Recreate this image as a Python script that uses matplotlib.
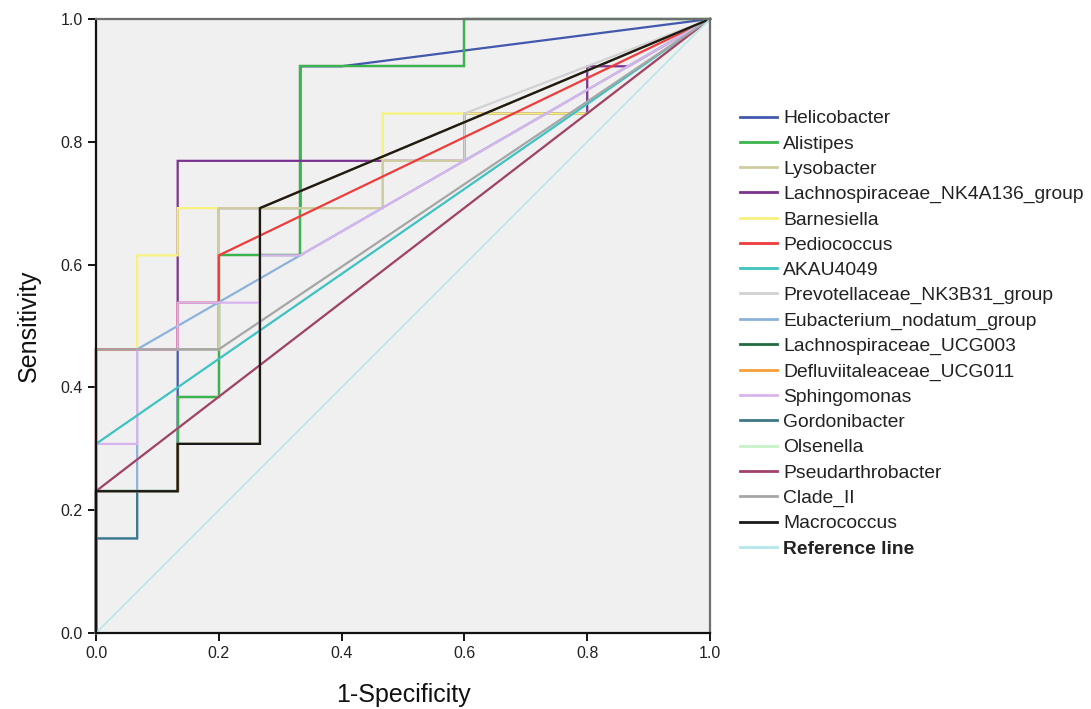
import matplotlib
matplotlib.use("Agg")
import matplotlib.pyplot as plt

plt.rcParams['font.family'] = ['Liberation Sans', 'DejaVu Sans']

# ROC curves: 1-Specificity (x) and Sensitivity (y) of each step point
helicobacter_x = [0, 0, 0.133, 0.133, 0.2, 0.2, 0.333, 0.333, 0.4, 1]
helicobacter_y = [0, 0.231, 0.231, 0.462, 0.462, 0.692, 0.692, 0.923, 0.923, 1]

alistipes_x = [0, 0, 0.133, 0.133, 0.2, 0.2, 0.333, 0.333, 0.6, 0.6, 1]
alistipes_y = [0, 0.231, 0.231, 0.385, 0.385, 0.615, 0.615, 0.923, 0.923, 1, 1]

lysobacter_x = [0, 0, 0.2, 0.2, 0.467, 0.467, 0.6, 1]
lysobacter_y = [0, 0.462, 0.462, 0.692, 0.692, 0.769, 0.769, 1]

nk4a136_x = [0, 0, 0.133, 0.133, 0.6, 0.6, 0.8, 0.8, 0.867, 1]
nk4a136_y = [0, 0.462, 0.462, 0.769, 0.769, 0.846, 0.846, 0.923, 0.923, 1]

barnesiella_x = [0, 0, 0.067, 0.067, 0.133, 0.133, 0.467, 0.467, 0.8, 1]
barnesiella_y = [0, 0.462, 0.462, 0.615, 0.615, 0.692, 0.692, 0.846, 0.846, 1]

pediococcus_x = [0, 0, 0.133, 0.133, 0.2, 0.2, 1]
pediococcus_y = [0, 0.462, 0.462, 0.538, 0.538, 0.615, 1]

akau4049_x = [0, 0, 1]
akau4049_y = [0, 0.308, 1]

prevotellaceae_x = [0, 0, 0.2, 0.2, 0.467, 0.467, 0.6, 0.6, 1]
prevotellaceae_y = [0, 0.462, 0.462, 0.692, 0.692, 0.769, 0.769, 0.846, 1]

eubacterium_x = [0, 0, 0.067, 0.067, 1]
eubacterium_y = [0, 0.154, 0.154, 0.462, 1]

ucg003_x = [0, 0, 0.133, 0.133, 0.2, 0.2, 0.333, 0.333, 0.6, 0.6, 1]
ucg003_y = [0, 0.231, 0.231, 0.385, 0.385, 0.615, 0.615, 0.923, 0.923, 1, 1]

ucg011_x = [0, 0, 0.133, 0.133, 0.267, 0.267, 1]
ucg011_y = [0, 0.231, 0.231, 0.308, 0.308, 0.692, 1]

sphingomonas_x = [0, 0, 0.067, 0.067, 0.133, 0.133, 0.267, 0.267, 0.333, 1]
sphingomonas_y = [0, 0.308, 0.308, 0.462, 0.462, 0.538, 0.538, 0.615, 0.615, 1]

gordonibacter_x = [0, 0, 0.067, 0.067, 0.133, 0.133, 0.267, 0.267, 1]
gordonibacter_y = [0, 0.154, 0.154, 0.231, 0.231, 0.308, 0.308, 0.692, 1]

olsenella_x = [0, 0, 1]
olsenella_y = [0, 0.231, 1]

pseudarthrobacter_x = [0, 0, 1]
pseudarthrobacter_y = [0, 0.231, 1]

clade_ii_x = [0, 0, 0.2, 1]
clade_ii_y = [0, 0.462, 0.462, 1]

macrococcus_x = [0, 0, 0.133, 0.133, 0.267, 0.267, 1]
macrococcus_y = [0, 0.231, 0.231, 0.308, 0.308, 0.692, 1]

reference_x = [0, 1]
reference_y = [0, 1]

# legend order
series = [
    ("Helicobacter", helicobacter_x, helicobacter_y, "#4258ad"),
    ("Alistipes", alistipes_x, alistipes_y, "#3cb44e"),
    ("Lysobacter", lysobacter_x, lysobacter_y, "#cfcca0"),
    ("Lachnospiraceae_NK4A136_group", nk4a136_x, nk4a136_y, "#7b338f"),
    ("Barnesiella", barnesiella_x, barnesiella_y, "#f7f27c"),
    ("Pediococcus", pediococcus_x, pediococcus_y, "#ee3b3b"),
    ("AKAU4049", akau4049_x, akau4049_y, "#3ec2c2"),
    ("Prevotellaceae_NK3B31_group", prevotellaceae_x, prevotellaceae_y, "#d2d2d2"),
    ("Eubacterium_nodatum_group", eubacterium_x, eubacterium_y, "#8cb2dc"),
    ("Lachnospiraceae_UCG003", ucg003_x, ucg003_y, "#1f6a40"),
    ("Defluviitaleaceae_UCG011", ucg011_x, ucg011_y, "#f4a038"),
    ("Sphingomonas", sphingomonas_x, sphingomonas_y, "#d8b4ee"),
    ("Gordonibacter", gordonibacter_x, gordonibacter_y, "#3e7888"),
    ("Olsenella", olsenella_x, olsenella_y, "#c8f2c8"),
    ("Pseudarthrobacter", pseudarthrobacter_x, pseudarthrobacter_y, "#a3406c"),
    ("Clade_II", clade_ii_x, clade_ii_y, "#a6a6a6"),
    ("Macrococcus", macrococcus_x, macrococcus_y, "#1a1a1a"),
]

# stacking order of the curves (bottom to top)
draw_order = ["Helicobacter", "Lachnospiraceae_UCG003", "Alistipes",
              "Lachnospiraceae_NK4A136_group", "Barnesiella",
              "Prevotellaceae_NK3B31_group", "Lysobacter", "Pediococcus",
              "Eubacterium_nodatum_group", "Gordonibacter",
              "Defluviitaleaceae_UCG011", "Olsenella", "Sphingomonas",
              "AKAU4049", "Pseudarthrobacter", "Clade_II", "Macrococcus"]

fig = plt.figure(figsize=(10.91, 7.09), dpi=100)
ax = fig.add_axes([0.088, 0.1072, 0.5628, 0.866])
ax.set_facecolor("#f0f0f0")

handles = {}
for name, xs, ys, color in series:
    z = 2 + 0.01 * draw_order.index(name)
    (ln,) = ax.plot(xs, ys, color=color, lw=1.6, zorder=z, clip_on=False,
                    solid_joinstyle="miter")
    handles[name] = ln

(ref,) = ax.plot(reference_x, reference_y, color="#b5e6ea", lw=1.1, zorder=2.3)

ax.set_xlim(0, 1)
ax.set_ylim(0, 1)
ticks = [0.0, 0.2, 0.4, 0.6, 0.8, 1.0]
ax.set_xticks(ticks)
ax.set_yticks(ticks)
ax.set_xticklabels([f"{t:.1f}" for t in ticks])
ax.set_yticklabels([f"{t:.1f}" for t in ticks])
ax.tick_params(direction="out", length=6, width=1.3, labelsize=11.5, colors="black",
               labelcolor="#222222")

for s in ["left", "bottom"]:
    ax.spines[s].set_color("#111111")
    ax.spines[s].set_linewidth(1.6)
for s in ["top", "right"]:
    ax.spines[s].set_color("#6e6e6e")
    ax.spines[s].set_linewidth(1.6)

ax.set_xlabel("1-Specificity", fontsize=18, labelpad=16, color="#111111")
ax.set_ylabel("Sensitivity", fontsize=18, labelpad=14, color="#111111")

leg_handles = [handles[n] for n, *_ in series] + [ref]
leg_labels = [n for n, *_ in series] + ["Reference line"]
leg = fig.legend(leg_handles, leg_labels, loc="upper left",
                 bbox_to_anchor=(0.678, 0.845), frameon=False, fontsize=13.9,
                 handlelength=1.95, handletextpad=0.3, labelspacing=0.40,
                 borderpad=0, borderaxespad=0)
for t in leg.get_texts():
    t.set_color("#222222")
leg.get_texts()[-1].set_fontweight("bold")
for lh in leg.get_lines():
    lh.set_linewidth(2.0)

fig.savefig("out.png", dpi=100)
